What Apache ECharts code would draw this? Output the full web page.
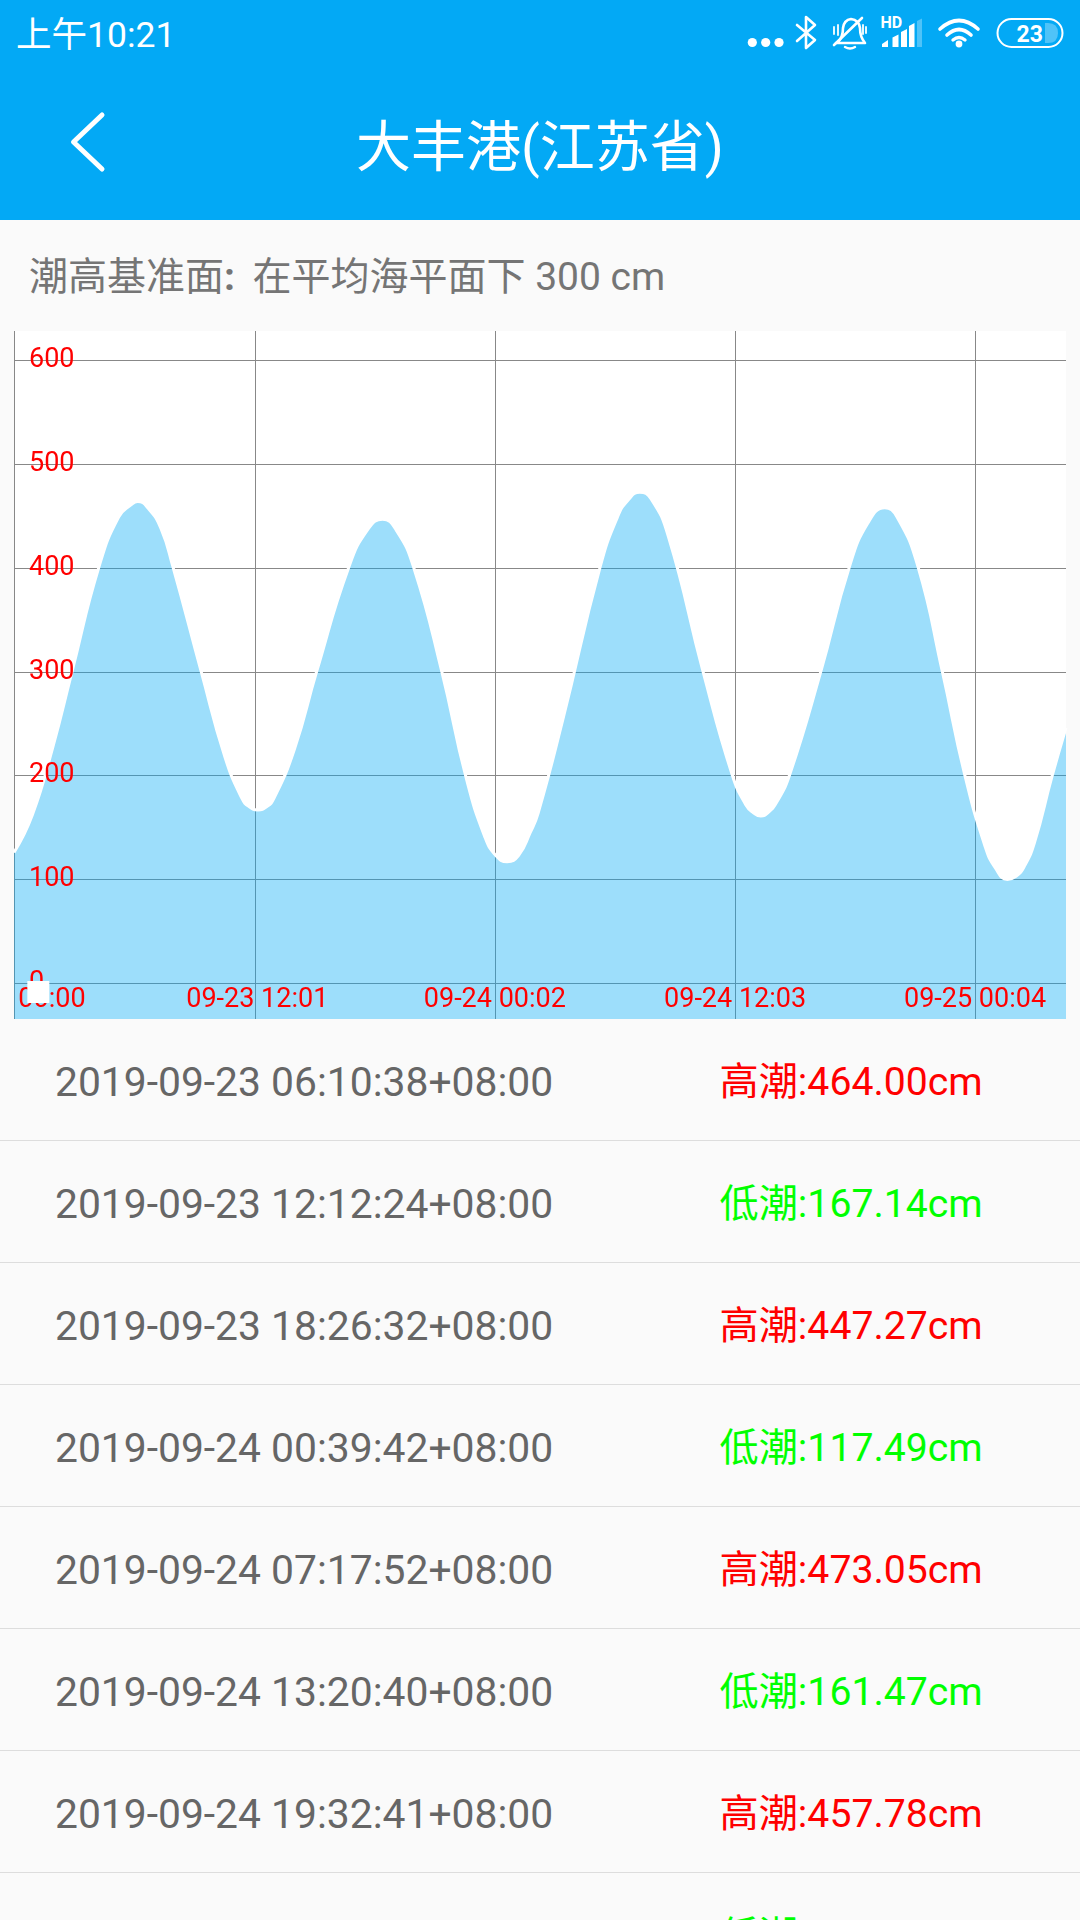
<!DOCTYPE html>
<html>
<head>
<meta charset="utf-8">
<title>大丰港(江苏省)</title>
<script src="https://cdn.jsdelivr.net/npm/echarts@6/dist/echarts.min.js"></script>
<style>
    html, body { margin: 0; padding: 0; }
    body { width: 1080px; height: 1920px; overflow: hidden; position: relative; background: #fafafa;
        font-family: Roboto, "Noto Sans CJK SC", sans-serif; }
    .abs { position: absolute; white-space: nowrap; }
    #head { left: 0; top: 0; width: 1080px; height: 220px; background: #03a9f5; }
    #clock { left: 16px; top: 13px; font-size: 35.5px; line-height: 44px; color: #fff; }
    #title { left: 0; top: 112px; width: 1080px; text-align: center; font-size: 55px; line-height: 70px; color: #fff; }
    #icons { left: 0; top: 0; }
    #datum { left: 29px; top: 252px; font-size: 39px; line-height: 50px; color: #757575; }
    #datum b { display: inline-block; width: 28.5px; font-weight: 700; }
    #main { left: 0; top: 0; width: 1080px; height: 1920px; }
    .row { left: 0; width: 1080px; height: 122px; border-top: 1.5px solid #ddd; box-sizing: border-box; line-height: 122px; }
    .row .when { position: absolute; left: 55px; top: 2px; color: #666; font-size: 40.8px; }
    .row .tide { position: absolute; left: 719.5px; top: 2px; font-size: 39.2px; }
</style>
</head>
<body>
<div id="head" class="abs"></div>
<div id="clock" class="abs">上午10:21</div>
<div id="title" class="abs">大丰港(江苏省)</div>
<svg id="icons" class="abs" width="1080" height="220" fill="none" stroke="#fff" stroke-linecap="round" stroke-linejoin="round">
    <path d="M102 115 L73.5 142 L102 169" stroke-width="5"/>
    <g fill="#fff" stroke="none">
        <circle cx="752.3" cy="42.5" r="4.6"/><circle cx="765.7" cy="42.5" r="4.6"/><circle cx="779" cy="42.5" r="4.6"/>
    </g>
    <path d="M797 25 L815 40 L806 48 L806 17 L815 25 L797 41" stroke-width="2.6"/>
    <path d="M838 42 Q843 37 843 28 Q844 20 851 19 Q859 20 860 28 Q860 37 865 43 L836 43" stroke-width="2.6"/>
    <path d="M834 45 L862 18" stroke-width="2.6"/>
    <path d="M845 47 Q850 50 855 47" stroke-width="2.4"/>
    <path d="M834 27 L834 34 M838 25 L838 35 M863 25 L863 34 M866 27 L866 33" stroke-width="1.8"/>
    <text x="880.5" y="28" fill="#fff" stroke="none" font-family="Roboto" font-weight="700" font-size="16">HD</text>
    <g fill="#fff" stroke="none">
        <path d="M882 47 L888 47 L888 40 L882 44 Z"/>
        <path d="M892.5 47 L898.5 47 L898.5 34.5 L892.5 37.5 Z"/>
        <path d="M901 47 L907 47 L907 29 L901 32 Z"/>
        <path d="M909 47 L914.5 47 L914.5 23 L909 26 Z"/>
        <path d="M917 47 L922 47 L922 18.5 L917 21 Z" opacity="0.3"/>
    </g>
    <path d="M940 29 Q959 12 978 29" stroke-width="3.6"/>
    <path d="M947 35 Q959 24 971 35" stroke-width="3.6"/>
    <circle cx="959" cy="44" r="3.4" fill="#fff" stroke="none"/>
    <path d="M953 40 Q959 35 965 40" stroke-width="3.4"/>
    <rect x="997.5" y="19" width="65" height="28" rx="14" stroke-width="2"/>
    <path d="M1045 23 L1048 23 Q1058 23 1058 33 Q1058 43 1048 43 L1045 43 Z" fill="#fff" fill-opacity="0.3" stroke="none"/>
    <text x="1016.5" y="41.5" fill="#fff" stroke="none" font-family="Roboto" font-weight="700" font-size="23">23</text>
</svg>
<div id="datum" class="abs">潮高基准面<b>:</b>在平均海平面下 300 cm</div>
<div id="rows"></div>
<div id="main" class="abs"></div>
<script type="text/javascript">
    // time axis is in minutes since 09-23 00:00
    var tideMinutes = [0, 55, 117, 174, 255, 314, 352, 371, 404, 441, 477, 562, 633, 684, 706, 732, 758, 780, 841,
        908, 1005, 1064, 1106, 1148, 1200, 1284, 1356, 1413, 1446, 1480, 1514, 1549, 1573, 1647,
        1759, 1811, 1842, 1878, 1911, 1964, 2068, 2155, 2196, 2220, 2241, 2262, 2290, 2328,
        2421, 2507, 2562, 2613, 2650, 2713, 2786, 2853, 2914, 2945, 2981, 3007, 3031, 3062, 3114, 3157];
    var tideHeights = [126, 162, 228, 300, 401, 449, 461, 464, 457, 438, 401, 300, 218, 178, 170, 167, 170, 178, 225,
        300, 401, 438, 447, 436, 400, 300, 199, 141, 123, 117, 123, 145, 164, 254,
        401, 449, 465, 473, 467, 430, 300, 201, 172, 164, 161, 164, 175, 201,
        300, 401, 443, 458, 449, 401, 300, 201, 132, 111, 100, 103, 112, 135, 198, 246];

    var xTicks = [0, 723, 1443, 2164, 2884];
    var xLabelAt = [114, 730, 1443, 2164, 2884];
    var xLabels = ['00:00', '09-23 12:01', '09-24 00:02', '09-24 12:03', '09-25 00:04'];
    var yTicks = [0, 100, 200, 300, 400, 500, 600];
    var whiteBox = [73, -8.4];

    var rowTimes = ['2019-09-23 06:10:38+08:00', '2019-09-23 12:12:24+08:00', '2019-09-23 18:26:32+08:00', '2019-09-24 00:39:42+08:00',
        '2019-09-24 07:17:52+08:00', '2019-09-24 13:20:40+08:00', '2019-09-24 19:32:41+08:00', '2019-09-25 01:47:48+08:00'];
    var rowKinds = ['高潮', '低潮', '高潮', '低潮', '高潮', '低潮', '高潮', '低潮'];
    var rowValues = ['464.00', '167.14', '447.27', '117.49', '473.05', '161.47', '457.78', '100.48'];

    var rows = document.getElementById('rows');
    rowTimes.forEach(function (t, i) {
        var d = document.createElement('div');
        d.className = 'abs row';
        if (i === 0) { d.style.borderTop = 'none'; d.style.top = '1019px'; }
        else { d.style.top = (1140 + 122 * (i - 1)) + 'px'; }
        d.innerHTML = '<span class="when">' + t + '</span><span class="tide" style="color:' +
            (rowKinds[i] === '高潮' ? '#ff0000' : '#00ff00') + '">' + rowKinds[i] + ':' + rowValues[i] + 'cm</span>';
        rows.appendChild(d);
    });

    var chart = echarts.init(document.getElementById('main'), null, {renderer: 'canvas'});
    var labelStyle = {color: '#ff0000', fontSize: 27, fontFamily: 'Roboto'};
    var gridLine = {show: true, lineStyle: {color: '#888888', width: 1, type: 'solid'}};

    var option = {
        animation: false,
        grid: {left: 14, right: 14, top: 331, bottom: 901, show: true, backgroundColor: '#ffffff', borderWidth: 0},
        xAxis: [
            {
                type: 'value', min: 0, max: 3157,
                axisLine: {show: false, onZero: false}, axisLabel: {show: false},
                axisTick: {show: false, customValues: xTicks},
                splitLine: gridLine
            },
            {
                // second axis only carries labels, so they sit on top of the area
                type: 'value', min: 0, max: 3157, position: 'bottom', z: 5, offset: -35.5,
                axisLine: {show: false, onZero: false},
                axisTick: {show: false},
                splitLine: {show: false},
                axisLabel: Object.assign({
                    show: true, margin: 3, customValues: xLabelAt,
                    hideOverlap: false,
                    formatter: function (v) { return xLabels[xLabelAt.indexOf(v)]; }
                }, labelStyle)
            }
        ],
        yAxis: [
            {
                type: 'value', min: -34.4, max: 628.2,
                axisLine: {show: false}, axisLabel: {show: false},
                axisTick: {show: false, customValues: yTicks},
                splitLine: gridLine
            },
            {
                type: 'value', min: -34.4, max: 628.2, position: 'left', z: 5,
                axisLine: {show: false}, axisTick: {show: false},
                splitLine: {show: false},
                axisLabel: Object.assign({
                    show: true, inside: true, margin: 15, customValues: yTicks,
                    hideOverlap: false, padding: [3, 0, 0, 0],
                    formatter: function (v) { return String(v); }
                }, labelStyle)
            }
        ],
        series: [
            {
                type: 'line',
                data: tideMinutes.map(function (m, i) { return [m, tideHeights[i]]; }),
                smooth: 0.5,
                showSymbol: false,
                silent: true,
                lineStyle: {color: '#ffffff', width: 3},
                areaStyle: {color: '#03a9f4', opacity: 0.39, origin: 'start'}
            },
            {
                type: 'scatter',
                data: [whiteBox],
                symbol: 'rect',
                symbolSize: [22, 22],
                silent: true,
                z: 10,
                itemStyle: {color: '#ffffff', opacity: 1}
            }
        ]
    };
    chart.setOption(option);
</script>
</body>
</html>
